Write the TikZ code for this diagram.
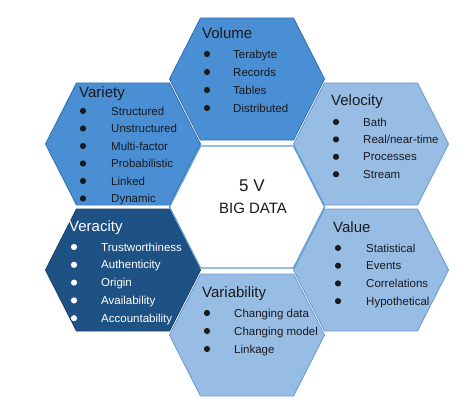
\documentclass[tikz,border=0pt]{standalone}
\usepackage{fontspec}
\setmainfont{Liberation Sans}
\usetikzlibrary{calc}
\definecolor{midblue}{RGB}{74,143,211}
\definecolor{midline}{RGB}{52,115,180}
\definecolor{lightblue}{RGB}{152,189,229}
\definecolor{lightline}{RGB}{110,155,210}
\definecolor{darkblue}{RGB}{30,82,132}
\definecolor{darkline}{RGB}{25,65,110}
\definecolor{centerline}{RGB}{91,155,213}
\definecolor{txt}{RGB}{25,25,30}
\tikzset{
  hexmid/.style={fill=midblue,draw=midline,line width=0.9pt,line join=round},
  hexlight/.style={fill=lightblue,draw=lightline,line width=0.9pt,line join=round},
  hexdark/.style={fill=darkblue,draw=darkline,line width=0.9pt,line join=round},
  hexcenter/.style={fill=white,draw=centerline,line width=1.2pt,line join=round},
  title/.style={anchor=base west,inner sep=0pt,font=\fontsize{15}{17}\selectfont},
  item/.style={anchor=base west,inner sep=0pt,font=\fontsize{11.5}{13}\selectfont},
}
\newcommand\hexshape[2]{%
  \path[#1,shift={#2}] (-77.5,0) -- (-46.5,-61) -- (46.5,-61) -- (77.5,0) -- (46.5,61) -- (-46.5,61) -- cycle;}
% name, title x, title y (center), bullet x, text x, first y, step, colour, list
\newcommand\hexlist[9]{%
  \node[title,text=#8] (#1-t) at (#2,#3+5.4) {#1};
  \foreach \it [count=\i] in {#9} {
    \fill[#8] (#4,{#6+(\i-1)*#7}) circle (3.1);
    \node[item,text=#8] (#1-\i) at (#5,{#6+(\i-1)*#7+4.1}) {\it};
  }}
\begin{document}
\begin{tikzpicture}[x=1pt,y=-1pt]
\useasboundingbox (0,0) rectangle (474,412);
\hexshape{hexmid}{(247,79)}
\hexshape{hexmid}{(123,144)}
\hexshape{hexlight}{(371,144)}
\hexshape{hexdark}{(123,270)}
\hexshape{hexlight}{(371,270)}
\hexshape{hexlight}{(247,335)}
\hexshape{hexcenter}{(247,207)}
\hexlist{Volume}{202}{33}{207}{233}{54}{18}{txt}{Terabyte,Records,Tables,Distributed}
\hexlist{Variety}{79}{92}{83}{111}{111}{17.5}{txt}{Structured,Unstructured,Multi-factor,Probabilistic,Linked,Dynamic}
\hexlist{Velocity}{331}{100}{336}{363}{122}{17.4}{txt}{Bath,Real/near-time,Processes,Stream}
\hexlist{Veracity}{69}{226}{74}{101}{247}{17.8}{white}{Trustworthiness,Authenticity,Origin,Availability,Accountability}
\hexlist{Value}{333}{227}{338}{366}{248}{17.7}{txt}{Statistical,Events,Correlations,Hypothetical}
\hexlist{Variability}{202}{292}{207}{234}{313}{18}{txt}{Changing data,Changing model,Linkage}
\node[inner sep=0pt,text=txt,font=\fontsize{17}{19}\selectfont] (fivev) at (252,186) {5 V};
\node[inner sep=0pt,text=txt,font=\fontsize{15}{17}\selectfont] (bigdata) at (253,208) {BIG DATA};
\end{tikzpicture}
\end{document}
